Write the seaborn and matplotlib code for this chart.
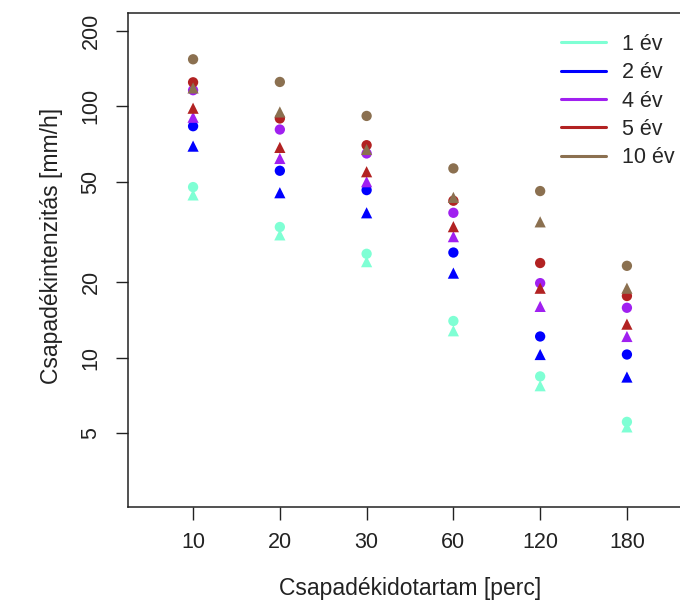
import pandas as pd
import matplotlib
matplotlib.use("Agg")
import matplotlib.pyplot as plt
from matplotlib.lines import Line2D
import seaborn as sns

# Durations (min) and return periods
durations = ["10", "20", "30", "60", "120", "180"]
periods = ["1 év", "2 év", "4 év", "5 év", "10 év"]
colors = ["#7FFFD4", "#0000FF", "#A020F0", "#B22222", "#8B7050"]

# Intensity values [mm/h], circle markers
circ_1 = [47.7, 33.1, 25.9, 14.0, 8.43, 5.56]
circ_2 = [83.3, 55.4, 46.4, 26.2, 12.15, 10.3]
circ_4 = [115.8, 80.8, 64.9, 37.7, 19.8, 15.8]
circ_5 = [124.5, 89.4, 70.0, 42.1, 23.8, 17.6]
circ_10 = [153.7, 124.9, 91.5, 56.6, 46.0, 23.2]

# Intensity values [mm/h], triangle markers
tri_1 = [44.4, 30.8, 24.1, 12.8, 7.74, 5.31]
tri_2 = [69.4, 45.3, 37.7, 21.7, 10.3, 8.38]
tri_4 = [90.4, 62.0, 50.1, 30.3, 16.0, 12.15]
tri_5 = [98.2, 68.6, 54.9, 33.2, 18.9, 13.6]
tri_10 = [118.2, 94.9, 67.3, 43.4, 34.7, 18.9]

circles = [circ_1, circ_2, circ_4, circ_5, circ_10]
triangles = [tri_1, tri_2, tri_4, tri_5, tri_10]


def to_frame(series_list):
    rows = []
    for per, vals in zip(periods, series_list):
        for d, v in zip(durations, vals):
            rows.append({"Duration": d, "Intensity": v, "Period": per})
    return pd.DataFrame(rows)


df_circ = to_frame(circles)
df_tri = to_frame(triangles)

sns.set_style("ticks")
plt.rcParams["font.family"] = ["Liberation Sans", "DejaVu Sans"]

fig = plt.figure(figsize=(6.8, 6.05), dpi=100)
ax = fig.add_axes([128 / 680, 98 / 605, 564 / 680, 494 / 605])

palette = dict(zip(periods, colors))
sns.scatterplot(data=df_circ, x="Duration", y="Intensity", hue="Period",
                palette=palette, marker="o", s=55, linewidth=0, legend=False, ax=ax)
sns.scatterplot(data=df_tri, x="Duration", y="Intensity", hue="Period",
                palette=palette, marker="^", s=65, linewidth=0, legend=False, ax=ax)

ax.set_yscale("log")
ax.set_ylim(2.55, 234.8)
ax.set_xlim(-0.75, 5.75)
ax.set_yticks([5, 10, 20, 50, 100, 200])
ax.set_yticklabels(["5", "10", "20", "50", "100", "200"], rotation=90, va="center")
ax.minorticks_off()
ax.tick_params(axis="both", labelsize=15.5, length=9, width=1, colors="#222222")
ax.tick_params(axis="y", pad=10)
ax.tick_params(axis="x", pad=9)
for sp in ax.spines.values():
    sp.set_color("#222222")
    sp.set_linewidth(1.1)

ax.set_xlabel("Csapadékidotartam [perc]", fontsize=16.5, color="#222222")
ax.set_ylabel("Csapadékintenzitás [mm/h]", fontsize=16.5, color="#222222")
ax.xaxis.set_label_coords(0.5, -0.142)
ax.yaxis.set_label_coords(-0.115, 0.528)

handles = [Line2D([0], [0], color=c, lw=2.2) for c in colors]
ax.legend(handles, periods, loc="upper left", bbox_to_anchor=(561 / 680, 1 - 34 / 605),
          bbox_transform=fig.transFigure, frameon=False, fontsize=15.5,
          handlelength=2.1, handletextpad=0.75, labelspacing=0.34,
          borderpad=0, borderaxespad=0)

fig.savefig("out.png", dpi=100)
